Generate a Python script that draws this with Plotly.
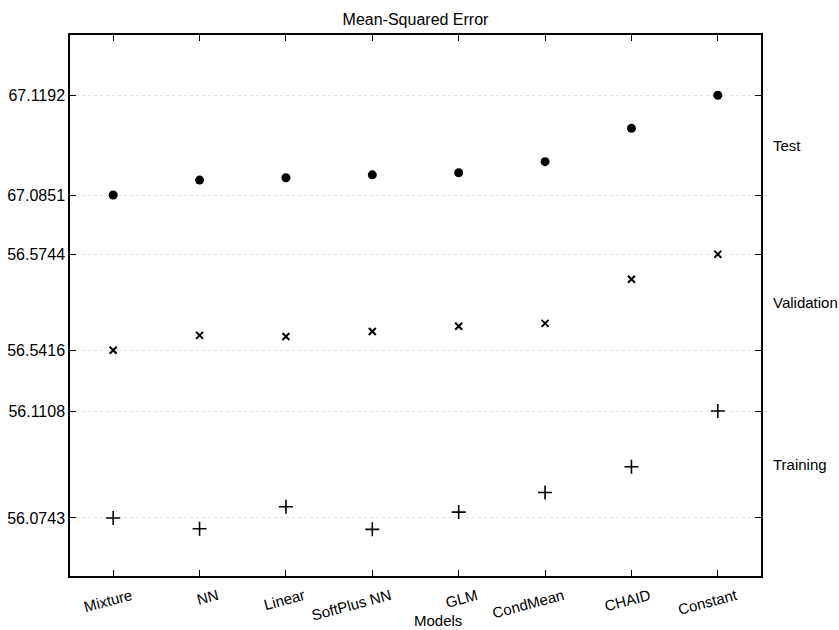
import plotly.graph_objects as go

models = ["Mixture", "NN", "Linear", "SoftPlus NN", "GLM", "CondMean", "CHAID", "Constant"]
test = [67.0851, 67.0902, 67.0910, 67.0920, 67.0927, 67.0965, 67.1079, 67.1192]
validation = [56.5416, 56.5467, 56.5463, 56.5480, 56.5498, 56.5508, 56.5659, 56.5744]
training = [56.0743, 56.0706, 56.0781, 56.0704, 56.0763, 56.0830, 56.0918, 56.1108]
group_names = ["Test", "Validation", "Training"]

FONT = "Liberation Sans, Arial, Helvetica, sans-serif"
fig = go.Figure()

fig.add_trace(go.Scatter(x=models, y=test, mode="markers", xaxis="x2", yaxis="y",
                         marker=dict(symbol="circle", size=9, color="black"),
                         showlegend=False, name="Test"))
fig.add_trace(go.Scatter(x=models, y=validation, mode="markers", xaxis="x", yaxis="y2",
                         marker=dict(symbol="x-thin-open", size=7, color="black",
                                     line=dict(width=2, color="black")),
                         showlegend=False, name="Validation"))
fig.add_trace(go.Scatter(x=models, y=training, mode="markers", xaxis="x", yaxis="y3",
                         marker=dict(symbol="cross-thin-open", size=10, color="black",
                                     line=dict(width=1.6, color="black")),
                         showlegend=False, name="Training"))

def yax(vals, domain, rng, anchor):
    tv = [vals[0], vals[-1]]
    return dict(domain=domain, range=rng, anchor=anchor, automargin=False,
                tickvals=tv, ticktext=[f"{v:.4f}" for v in tv],
                ticks="inside", ticklen=6, tickcolor="black", tickwidth=1,
                showline=True, linecolor="black", linewidth=1.5, mirror="ticks",
                showgrid=True, gridcolor="#e4e4e4", griddash="dot", gridwidth=1,
                zeroline=False, tickfont=dict(size=16, color="black", family=FONT))

xcommon = dict(type="category", categoryorder="array", categoryarray=models,
               range=[-0.5, 7.5], ticks="inside", ticklen=6, tickcolor="black",
               showline=True, linecolor="black", linewidth=1.5, showgrid=False,
               zeroline=False, automargin=False)

fig.update_layout(
    template="none",
    width=839, height=630,
    margin=dict(l=70, r=78, t=35, b=54, autoexpand=False),
    paper_bgcolor="white", plot_bgcolor="white",
    font=dict(family=FONT, size=15, color="black"),
    title=dict(text="Mean-Squared Error", x=0.5, xref="paper", xanchor="center",
               y=1 - 19 / 630, yref="container", yanchor="middle",
               font=dict(size=16, color="black", family=FONT)),
    xaxis=dict(**xcommon, anchor="y3", side="bottom", tickangle=-15,
               ticklabelshift=18, ticklabelstandoff=4,
               tickfont=dict(size=15, color="black", family=FONT)),
    xaxis2=dict(**xcommon, anchor="y", side="top", matches="x", showticklabels=False),
    yaxis=yax(test, [0.6506, 1.0], [67.07519, 67.1398], "x2"),
    yaxis2=yax(validation, [0.3623, 0.6506], [56.53145, 56.58475], "x"),
    yaxis3=yax(training, [0.0, 0.3623], [56.05448, 56.12139], "x"),
)

for name, vals, yr in zip(group_names, [test, validation, training], ["y", "y2", "y3"]):
    fig.add_annotation(text=name, xref="paper", x=1, xshift=10, xanchor="left",
                       yref=yr, y=(vals[0] + vals[-1]) / 2, yanchor="middle",
                       showarrow=False, font=dict(size=15, color="black", family=FONT))

fig.add_annotation(text="Models", xref="paper", x=(438 - 70) / 691, xanchor="center",
                   yref="paper", y=0, yshift=-44, yanchor="middle", showarrow=False,
                   font=dict(size=15, color="black", family=FONT))

fig.write_html("out.html")
